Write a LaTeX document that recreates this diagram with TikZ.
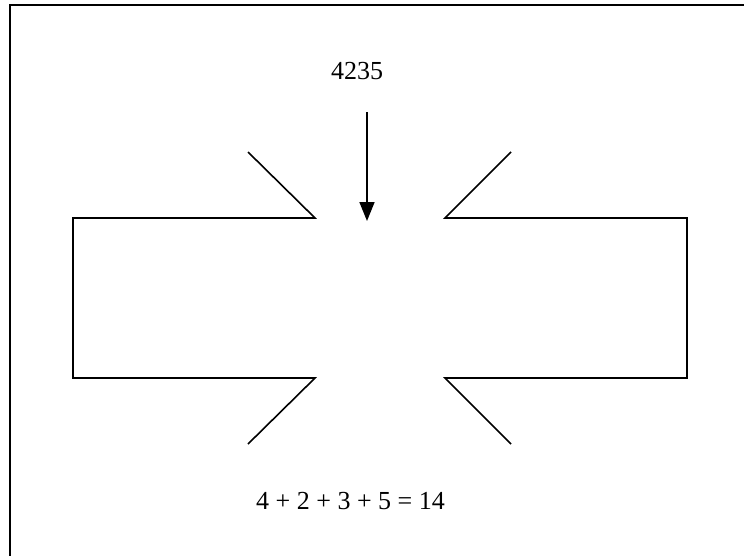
\documentclass[tikz,border=0pt]{standalone}
\usepackage{fontspec}
\setmainfont{Liberation Serif}
\usetikzlibrary{arrows.meta}

\begin{document}
\begin{tikzpicture}[
  x=1pt,
  y=-1pt,
  >={Triangle[length=19pt,width=15pt]},
  frame/.style={
    line width=2.2pt
  },
  outline/.style={
    line width=1.6pt,
    line join=miter
  },
  label/.style={
    font=\fontsize{26}{30}\selectfont,
    inner sep=0pt,
    anchor=base
  }
]
  \clip (0,0) rectangle (744,555);
  \draw[frame] (10,600) -- (10,5) -- (800,5);

  % two open halves of the box
  \draw[outline] (248,152) -- (315,218) -- (73,218) -- (73,378)
    -- (315,378) -- (248,444);
  \draw[outline] (511,152) -- (445,218) -- (687,218) -- (687,378)
    -- (445,378) -- (511,444);

  \node[label] (number) at (357,79) {4235};
  \node[label] (sum) at (350.5,509) {4 + 2 + 3 + 5 = 14};

  \coordinate (feed) at (367,112);
  \coordinate (mouth) at (367,221);
  \draw[->,line width=1.6pt] (feed) -- (mouth);
\end{tikzpicture}
\end{document}
